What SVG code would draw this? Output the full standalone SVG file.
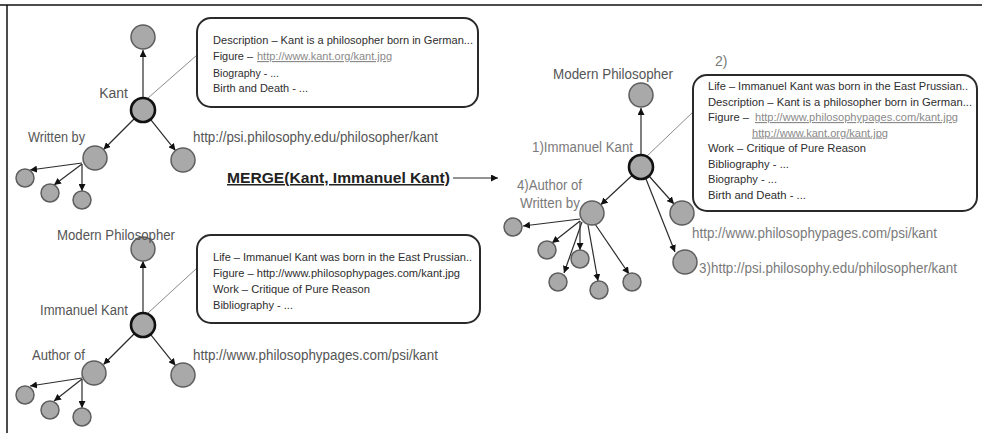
<svg xmlns="http://www.w3.org/2000/svg" width="982" height="433" viewBox="0 0 982 433">
  <style>
    .node { fill: #a9a9a9; stroke: #5e5e5e; stroke-width: 1.5; }
    .hub { fill: #a9a9a9; stroke: #111; stroke-width: 2.6; }
    .edge { stroke: #2b2b2b; stroke-width: 1.2; fill: none; marker-end: url(#arrow); }
    .lead { stroke: #8a8a8a; stroke-width: 1; fill: none; }
    .box { fill: #fff; stroke: #2a2a2a; stroke-width: 2; }
    .lbl { font-family: "Liberation Sans", Arial, sans-serif; font-size: 14px; fill: #555; }
    .lbl2 { font-family: "Liberation Sans", Arial, sans-serif; font-size: 14px; fill: #7a7a7a; }
    .txt { font-family: "Liberation Sans", Arial, sans-serif; font-size: 11.5px; fill: #2e2e2e; }
    .link { font-family: "Liberation Sans", Arial, sans-serif; font-size: 11.5px; fill: #8a8a8a; text-decoration: underline; }
    .merge { font-family: "Liberation Sans", Arial, sans-serif; font-size: 15px; font-weight: bold; fill: #222; text-decoration: underline; }
  </style>
  <defs>
    <marker id="arrow" viewBox="0 0 10 10" refX="10" refY="5" markerWidth="7" markerHeight="7" markerUnits="userSpaceOnUse" orient="auto">
      <path d="M0,0 L10,5 L0,10 z" fill="#111"/>
    </marker>
  </defs>

  <!-- page frame -->
  <g id="frame" stroke="#111" stroke-width="1.5">
    <line x1="0" y1="5" x2="982" y2="5"/>
    <line x1="7" y1="5" x2="7" y2="433"/>
  </g>

  <!-- connectors -->
  <g id="connectors">
    <!-- Kant graph -->
    <line class="edge" x1="143" y1="98" x2="143" y2="50"/>
    <line class="edge" x1="134.5" y1="118.5" x2="103.5" y2="149.5"/>
    <line class="edge" x1="150.5" y1="119.4" x2="175.5" y2="150.6"/>
    <line class="edge" x1="82" y1="163" x2="30" y2="170"/>
    <line class="edge" x1="82" y1="164" x2="54" y2="185"/>
    <line class="edge" x1="82" y1="164" x2="82" y2="191"/>
    <line class="lead" x1="148" y1="98" x2="197" y2="55"/>

    <!-- Immanuel Kant graph -->
    <line class="edge" x1="143" y1="313" x2="143" y2="261"/>
    <line class="edge" x1="134.5" y1="333.5" x2="103.5" y2="364.5"/>
    <line class="edge" x1="150.5" y1="334.4" x2="175.5" y2="365.6"/>
    <line class="edge" x1="82" y1="378" x2="30" y2="386"/>
    <line class="edge" x1="82" y1="379" x2="54" y2="401"/>
    <line class="edge" x1="82" y1="379" x2="82" y2="408"/>
    <line class="lead" x1="148" y1="313" x2="197" y2="268"/>

    <!-- merge arrow -->
    <line class="edge" x1="453" y1="178" x2="498" y2="178"/>

    <!-- merged graph -->
    <line class="edge" x1="641" y1="155" x2="641" y2="108"/>
    <line class="edge" x1="632.3" y1="175.2" x2="600.7" y2="204.8"/>
    <line class="edge" x1="649" y1="176" x2="674" y2="204"/>
    <line class="edge" x1="646" y1="179" x2="675" y2="252"/>
    <line class="edge" x1="580" y1="219" x2="523" y2="226"/>
    <line class="edge" x1="580" y1="221" x2="552" y2="243"/>
    <line class="edge" x1="580" y1="221" x2="580" y2="250"/>
    <line class="edge" x1="582" y1="222" x2="564" y2="273"/>
    <line class="edge" x1="588" y1="225" x2="598" y2="281"/>
    <line class="edge" x1="595" y1="224" x2="629" y2="274"/>
    <line class="lead" x1="646" y1="157" x2="693" y2="112"/>
  </g>

  <!-- Kant -->
  <g id="kant">
    <circle class="node" cx="143" cy="37" r="12"/>
    <circle class="hub" cx="143" cy="110" r="12"/>
    <circle class="node" cx="95" cy="158" r="12"/>
    <circle class="node" cx="183" cy="160" r="12"/>
    <circle class="node" cx="25" cy="178" r="9"/>
    <circle class="node" cx="50" cy="193" r="9"/>
    <circle class="node" cx="82" cy="200" r="9"/>
    <text class="lbl" x="128" y="98" text-anchor="end">Kant</text>
    <text class="lbl" x="28" y="142" textLength="57" lengthAdjust="spacingAndGlyphs">Written by</text>
    <text class="lbl" x="193" y="142" textLength="245" lengthAdjust="spacingAndGlyphs">http://psi.philosophy.edu/philosopher/kant</text>
  </g>

  <g id="kant-info">
    <rect class="box" x="197" y="18" width="281" height="89" rx="14"/>
    <text class="txt" x="213" y="44" textLength="260" lengthAdjust="spacingAndGlyphs">Description – Kant is a philosopher born in German...</text>
    <text class="txt" x="213" y="60" textLength="40" lengthAdjust="spacingAndGlyphs">Figure –</text>
    <text class="link" x="257" y="60" textLength="135" lengthAdjust="spacingAndGlyphs">http://www.kant.org/kant.jpg</text>
    <text class="txt" x="213" y="77" textLength="66" lengthAdjust="spacingAndGlyphs">Biography - ...</text>
    <text class="txt" x="213" y="92" textLength="95" lengthAdjust="spacingAndGlyphs">Birth and Death - ...</text>
  </g>

  <!-- Immanuel Kant -->
  <g id="immanuel-kant">
    <circle class="node" cx="143" cy="249" r="12"/>
    <circle class="hub" cx="143" cy="325" r="12"/>
    <circle class="node" cx="94" cy="373" r="12"/>
    <circle class="node" cx="183" cy="375" r="12"/>
    <circle class="node" cx="25" cy="395" r="9"/>
    <circle class="node" cx="50" cy="410" r="9"/>
    <circle class="node" cx="82" cy="417" r="9"/>
    <text class="lbl" x="57" y="240" textLength="118" lengthAdjust="spacingAndGlyphs">Modern Philosopher</text>
    <text class="lbl" x="40" y="315" textLength="88" lengthAdjust="spacingAndGlyphs">Immanuel Kant</text>
    <text class="lbl" x="32" y="360" textLength="53" lengthAdjust="spacingAndGlyphs">Author of</text>
    <text class="lbl" x="193" y="360" textLength="245" lengthAdjust="spacingAndGlyphs">http://www.philosophypages.com/psi/kant</text>
  </g>

  <g id="immanuel-kant-info">
    <rect class="box" x="197" y="235" width="283" height="88" rx="14"/>
    <text class="txt" x="213" y="261" textLength="259" lengthAdjust="spacingAndGlyphs">Life – Immanuel Kant was born in the East Prussian..</text>
    <text class="txt" x="213" y="277" textLength="247" lengthAdjust="spacingAndGlyphs">Figure – http://www.philosophypages.com/kant.jpg</text>
    <text class="txt" x="213" y="293" textLength="157" lengthAdjust="spacingAndGlyphs">Work – Critique of Pure Reason</text>
    <text class="txt" x="213" y="309" textLength="80" lengthAdjust="spacingAndGlyphs">Bibliography - ...</text>
  </g>

  <!-- merge operation -->
  <g id="merge">
    <text class="merge" x="227" y="183" textLength="223" lengthAdjust="spacingAndGlyphs">MERGE(Kant, Immanuel Kant)</text>
  </g>

  <!-- merged Immanuel Kant -->
  <g id="merged-kant">
    <circle class="node" cx="641" cy="95" r="12"/>
    <circle class="hub" cx="641" cy="167" r="12"/>
    <circle class="node" cx="592" cy="213" r="12"/>
    <circle class="node" cx="682" cy="213" r="12"/>
    <circle class="node" cx="685" cy="262" r="12"/>
    <circle class="node" cx="513" cy="227" r="9"/>
    <circle class="node" cx="547" cy="250" r="9"/>
    <circle class="node" cx="580" cy="259" r="9"/>
    <circle class="node" cx="558" cy="282" r="9"/>
    <circle class="node" cx="599" cy="290" r="9"/>
    <circle class="node" cx="632" cy="282" r="9"/>
    <text class="lbl" x="553" y="79" textLength="120" lengthAdjust="spacingAndGlyphs">Modern Philosopher</text>
    <text class="lbl2" x="715" y="66">2)</text>
    <text class="lbl2" x="532" y="152" textLength="101" lengthAdjust="spacingAndGlyphs">1)Immanuel Kant</text>
    <text class="lbl2" x="517" y="190" textLength="65" lengthAdjust="spacingAndGlyphs">4)Author of</text>
    <text class="lbl2" x="520" y="208" textLength="60" lengthAdjust="spacingAndGlyphs">Written by</text>
    <text class="lbl2" x="692" y="238" textLength="245" lengthAdjust="spacingAndGlyphs">http://www.philosophypages.com/psi/kant</text>
    <text class="lbl2" x="699" y="273" textLength="258" lengthAdjust="spacingAndGlyphs">3)http://psi.philosophy.edu/philosopher/kant</text>
  </g>

  <g id="merged-kant-info">
    <rect class="box" x="693" y="75" width="284" height="136" rx="14"/>
    <text class="txt" x="708" y="90" textLength="260" lengthAdjust="spacingAndGlyphs">Life – Immanuel Kant was born in the East Prussian..</text>
    <text class="txt" x="708" y="105.5" textLength="264" lengthAdjust="spacingAndGlyphs">Description – Kant is a philosopher born in German...</text>
    <text class="txt" x="708" y="121" textLength="41" lengthAdjust="spacingAndGlyphs">Figure –</text>
    <text class="link" x="755" y="121" textLength="203" lengthAdjust="spacingAndGlyphs">http://www.philosophypages.com/kant.jpg</text>
    <text class="link" x="752" y="136.5" textLength="136" lengthAdjust="spacingAndGlyphs">http://www.kant.org/kant.jpg</text>
    <text class="txt" x="708" y="152" textLength="158" lengthAdjust="spacingAndGlyphs">Work – Critique of Pure Reason</text>
    <text class="txt" x="708" y="167.5" textLength="81" lengthAdjust="spacingAndGlyphs">Bibliography - ...</text>
    <text class="txt" x="708" y="183" textLength="69" lengthAdjust="spacingAndGlyphs">Biography - ...</text>
    <text class="txt" x="708" y="198.5" textLength="98" lengthAdjust="spacingAndGlyphs">Birth and Death - ...</text>
  </g>
</svg>
